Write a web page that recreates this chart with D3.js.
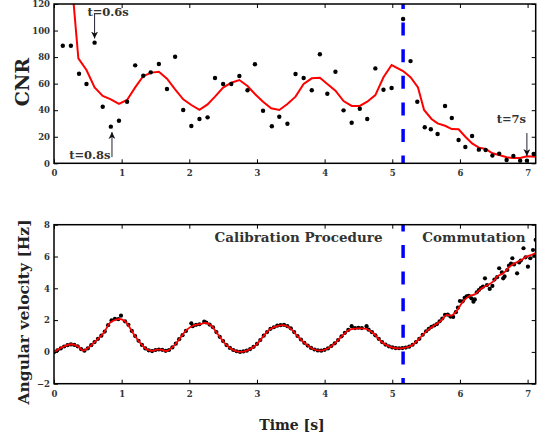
<!DOCTYPE html>
<html>
<head>
<meta charset="utf-8">
<script src="https://d3js.org/d3.v7.min.js"></script>
<style>
  body { margin: 0; background: #fff; }
  svg text { font-family: "DejaVu Serif", serif; }
</style>
</head>
<body>
<div id="chart"></div>
<script>
// ---- data ----
// CNR samples (time [s], CNR)
var cnrT = [0.13,0.25,0.37,0.48,0.60,0.72,0.84,0.96,1.08,1.20,1.32,1.43,1.55,1.67,1.79,1.91,2.03,2.15,2.27,2.38,
            2.50,2.62,2.74,2.86,2.97,3.09,3.22,3.33,3.45,3.57,3.69,3.81,3.93,4.04,4.16,4.28,4.40,4.52,4.63,4.75,
            4.87,4.99,5.16,5.27,5.37,5.48,5.57,5.67,5.78,5.88,5.98,6.08,6.18,6.28,6.38,6.48,6.58,6.69,6.79,6.89,6.99,7.09];
var cnrV = [88.6,88.6,67.5,59.7,90.9,42.6,27.6,32.1,46.4,73.8,66,68.5,74.8,56,80.3,40.2,28.1,33.4,34.6,64.3,
            59.7,59.7,65.8,55,74.6,39.6,27.9,35.1,29.8,67.3,64.3,55,82.1,52.4,69,39.9,30.6,41.1,33.4,71.5,
            55.4,56.7,108.7,77,46.4,27.1,25.6,22.1,43.2,34.1,17.6,12.3,20.6,10.3,10,5.8,7.3,2.5,5.5,2,2,7];

// smoothed CNR (red line)
var cnrFitT = [0.24,0.36,0.48,0.60,0.72,0.84,0.96,1.08,1.20,1.32,1.44,1.55,1.67,1.79,1.91,2.03,2.15,2.27,2.38,
               2.50,2.62,2.74,2.86,2.97,3.09,3.21,3.33,3.45,3.57,3.69,3.81,3.93,4.04,4.16,4.28,4.40,4.52,4.63,4.75,
               4.87,4.99,5.16,5.27,5.38,5.47,5.58,5.67,5.78,5.88,5.98,6.08,6.18,6.28,6.38,6.48,6.58,6.69,6.79,6.89,6.99,7.12];
var cnrFitV = [150,79,70.3,57.2,50.7,48.2,44.7,47.7,57.2,65.8,68.3,69,63.7,55.7,48.2,43.9,40.2,44.4,50.2,
               57,60.7,62.7,58.2,52.2,46.4,41.4,40.2,44.7,50.2,59.7,64,64.5,59.7,54.7,46.9,43.2,43.2,46.4,51.4,
               64.8,74,69.5,64.8,57.2,40.2,33.4,30.1,28.3,25.8,25.6,20,15,11.8,10.8,7.5,6.3,4.5,4,4,5.3,5];

// angular velocity: fitted curve (red) [t, Hz]
var velFit = [[0.00,-0.02],[0.14,0.33],[0.26,0.48],[0.36,0.33],[0.43,0.08],[0.51,0.27],[0.605,0.64],[0.73,1.17],
  [0.83,1.84],[0.93,2.05],[1.00,2.05],[1.07,1.84],[1.17,1.17],[1.27,0.58],[1.37,0.16],[1.44,0.06],[1.52,0.14],
  [1.59,0.14],[1.665,0.06],[1.76,0.33],[1.86,0.85],[1.96,1.38],[2.06,1.66],[2.16,1.75],[2.245,1.82],[2.33,1.63],
  [2.43,1.06],[2.55,0.43],[2.65,0.12],[2.75,0.0],[2.85,0.08],[2.97,0.37],[3.09,0.96],[3.19,1.42],[3.31,1.63],
  [3.41,1.67],[3.51,1.42],[3.585,1.06],[3.71,0.54],[3.83,0.18],[3.93,0.08],[4.03,0.18],[4.15,0.54],[4.27,1.06],
  [4.37,1.40],[4.495,1.48],[4.62,1.44],[4.72,1.17],[4.84,0.64],[4.96,0.33],[5.06,0.23],[5.18,0.26],[5.28,0.39],
  [5.38,0.75],[5.505,1.31],[5.63,1.69],[5.73,2.0],[5.80,2.32],[5.875,2.28],[5.95,2.57],[6.045,3.16],[6.145,3.53],
  [6.22,3.62],[6.32,4.0],[6.415,4.21],[6.49,4.42],[6.565,4.79],[6.64,4.94],[6.735,5.36],[6.835,5.63],[6.91,5.78],
  [6.98,5.99],[7.08,6.14],[7.15,6.3]];

// angular velocity: measured samples (black dots) [t, Hz]
var velDots = [[0.00,-0.02],[0.05,0.10],[0.10,0.22],[0.15,0.34],[0.20,0.42],[0.25,0.47],[0.30,0.44],[0.35,0.35],
  [0.40,0.18],[0.45,0.08],[0.50,0.22],[0.55,0.42],[0.60,0.62],[0.65,0.82],[0.70,1.02],[0.75,1.28],[0.80,1.68],
  [0.85,1.98],[0.90,2.08],[0.95,2.06],[0.99,2.28],[1.05,1.92],[1.10,1.70],[1.15,1.32],[1.20,1.00],[1.25,0.70],
  [1.30,0.44],[1.35,0.22],[1.40,0.10],[1.45,0.05],[1.50,0.12],[1.55,0.15],[1.60,0.13],[1.65,0.07],[1.70,0.12],
  [1.75,0.28],[1.80,0.52],[1.85,0.80],[1.90,1.05],[1.95,1.32],[2.03,1.80],[2.05,1.62],[2.10,1.70],[2.15,1.74],
  [2.22,1.90],[2.25,1.85],[2.30,1.72],[2.35,1.55],[2.40,1.25],[2.45,0.95],[2.50,0.68],[2.55,0.43],[2.60,0.25],
  [2.65,0.12],[2.70,0.04],[2.75,0.00],[2.80,0.03],[2.85,0.08],[2.90,0.18],[2.95,0.32],[3.00,0.50],[3.05,0.75],
  [3.10,1.02],[3.15,1.25],[3.20,1.45],[3.25,1.55],[3.30,1.65],[3.35,1.68],[3.40,1.70],[3.45,1.62],[3.50,1.48],
  [3.55,1.25],[3.60,1.00],[3.65,0.78],[3.70,0.57],[3.75,0.40],[3.80,0.25],[3.85,0.15],[3.90,0.09],[3.95,0.08],
  [4.00,0.13],[4.05,0.22],[4.10,0.37],[4.15,0.54],[4.20,0.75],[4.25,0.98],[4.30,1.20],[4.35,1.38],[4.40,1.62],
  [4.45,1.50],[4.50,1.52],[4.55,1.50],[4.62,1.62],[4.65,1.40],[4.70,1.24],[4.75,1.04],[4.80,0.82],[4.85,0.62],
  [4.90,0.46],[4.95,0.35],[5.00,0.28],[5.05,0.24],[5.10,0.23],[5.15,0.24],[5.20,0.27],[5.25,0.33],[5.30,0.45],
  [5.35,0.62],[5.40,0.82],[5.45,1.08],[5.50,1.30],[5.54,1.45],[5.58,1.58],[5.62,1.66],[5.66,1.75],[5.70,1.92],
  [5.74,2.10],[5.78,2.33],[5.82,2.35],[5.86,2.22],[5.90,2.20],[5.94,2.50],[5.97,2.78],[6.00,3.20],[6.04,3.18],
  [6.07,3.40],[6.10,3.50],[6.13,3.52],[6.17,3.37],[6.20,3.16],[6.22,3.30],[6.25,3.75],[6.28,3.89],[6.31,4.02],
  [6.34,4.10],[6.37,4.63],[6.40,4.20],[6.44,3.96],[6.48,4.15],[6.51,4.55],[6.55,4.70],[6.58,5.26],[6.62,5.00],
  [6.64,4.63],[6.66,4.75],[6.70,5.15],[6.725,5.42],[6.755,5.55],[6.775,5.89],[6.80,5.50],[6.845,4.94],[6.875,5.63],
  [6.90,5.75],[6.94,6.52],[6.97,5.95],[7.005,5.36],[7.04,5.89],[7.08,6.41],[7.10,6.05],[7.12,7.04]];

var xTicks = [0,1,2,3,4,5,6,7];
var cnrTicks = [0,20,40,60,80,100,120];
var velTicks = [-2,0,2,4,6,8];
var switchTime = 5.16;   // calibration -> commutation

// ---- layout ----
var W = 546, H = 441;
var left = 54, right = 535.7;
var topPanel = {y0: 4, y1: 163.3};
var botPanel = {y0: 224.7, y1: 383.7};

var svg = d3.select("#chart").append("svg").attr("width", W).attr("height", H);

var x = d3.scaleLinear().domain([0, 7.12]).range([left, right]);
var yC = d3.scaleLinear().domain([0, 120]).range([topPanel.y1, topPanel.y0]);
var yV = d3.scaleLinear().domain([-2, 8]).range([botPanel.y1, botPanel.y0]);

var defs = svg.append("defs");
defs.append("clipPath").attr("id", "clipTop").append("rect")
    .attr("x", left).attr("y", topPanel.y0).attr("width", right - left).attr("height", topPanel.y1 - topPanel.y0);
defs.append("clipPath").attr("id", "clipBot").append("rect")
    .attr("x", left).attr("y", botPanel.y0).attr("width", right - left).attr("height", botPanel.y1 - botPanel.y0);
defs.append("marker").attr("id", "arrow")
    .attr("viewBox", "0 0 10 10").attr("refX", 10).attr("refY", 5)
    .attr("markerWidth", 7).attr("markerHeight", 7).attr("markerUnits", "userSpaceOnUse")
    .attr("orient", "auto")
  .append("path").attr("d", "M0,0 L10,5 L0,10 L3,5 z").attr("fill", "#111");

// draws box, inward ticks on all four sides
function drawFrame(y, yTicks, p) {
  var g = svg.append("g");
  g.append("g").attr("transform", "translate(0," + p.y1 + ")")
    .call(d3.axisBottom(x).tickValues(xTicks).tickSize(-4).tickPadding(7));
  g.append("g").attr("transform", "translate(0," + p.y0 + ")")
    .call(d3.axisTop(x).tickValues(xTicks).tickSize(-4).tickFormat(""));
  g.append("g").attr("transform", "translate(" + left + ",0)")
    .call(d3.axisLeft(y).tickValues(yTicks).tickSize(-4).tickPadding(4));
  g.append("g").attr("transform", "translate(" + right + ",0)")
    .call(d3.axisRight(y).tickValues(yTicks).tickSize(-4).tickFormat(""));
  g.selectAll(".domain").remove();
  g.selectAll(".tick line").attr("stroke", "#000").attr("stroke-width", 1);
  g.selectAll(".tick text").attr("fill", "#333").style("font-size", "8.5px").style("font-weight", "bold")
    .style("font-family", "'DejaVu Serif', serif");
  g.append("rect").attr("x", left).attr("y", p.y0).attr("width", right - left).attr("height", p.y1 - p.y0)
    .attr("fill", "none").attr("stroke", "#000").attr("stroke-width", 1.5);
}

// ---- top panel: CNR ----
var gTop = svg.append("g").attr("clip-path", "url(#clipTop)");
gTop.append("path")
  .datum(d3.range(cnrFitT.length))
  .attr("fill", "none").attr("stroke", "#ff0000").attr("stroke-width", 2)
  .attr("d", d3.line().x(function (i) { return x(cnrFitT[i]); }).y(function (i) { return yC(cnrFitV[i]); }));
gTop.selectAll("circle").data(d3.range(cnrT.length)).enter().append("circle")
  .attr("cx", function (i) { return x(cnrT[i]); })
  .attr("cy", function (i) { return yC(cnrV[i]); })
  .attr("r", 2.2).attr("fill", "#000");
gTop.append("line")
  .attr("x1", x(switchTime)).attr("x2", x(switchTime)).attr("y1", topPanel.y0).attr("y2", topPanel.y1)
  .attr("stroke", "#0000ff").attr("stroke-width", 3.5)
  .attr("stroke-dasharray", "13,13.6").attr("stroke-dashoffset", 8);
drawFrame(yC, cnrTicks, topPanel);

// annotations
var notes = [
  {text: "t=0.6s", t: 0.6,  from: 112.5, to: 94,  lx: 0.80, ly: 110.6},
  {text: "t=0.8s", t: 0.857, from: 4.7,  to: 23.5, lx: 0.53, ly: 3.2},
  {text: "t=7s",   t: 6.99, from: 22.8,  to: 5.5,  lx: 6.76, ly: 30.4}
];
notes.forEach(function (n) {
  svg.append("line")
    .attr("x1", x(n.t)).attr("x2", x(n.t)).attr("y1", yC(n.from)).attr("y2", yC(n.to))
    .attr("stroke", "#223").attr("stroke-width", 1).attr("marker-end", "url(#arrow)");
  svg.append("text").attr("x", x(n.lx)).attr("y", yC(n.ly))
    .attr("text-anchor", "middle").attr("fill", "#333")
    .style("font-size", "11.5px").style("font-weight", "bold").text(n.text);
});

// ---- bottom panel: angular velocity ----
var gBot = svg.append("g").attr("clip-path", "url(#clipBot)");
gBot.selectAll("circle").data(velDots).enter().append("circle")
  .attr("cx", function (d) { return x(d[0]); })
  .attr("cy", function (d) { return yV(d[1]); })
  .attr("r", 2.1).attr("fill", "#000");
gBot.append("path").datum(velFit)
  .attr("fill", "none").attr("stroke", "#ff0000").attr("stroke-width", 1.8)
  .attr("d", d3.line().x(function (d) { return x(d[0]); }).y(function (d) { return yV(d[1]); })
    .curve(d3.curveCatmullRom.alpha(0.5)));
gBot.append("line")
  .attr("x1", x(switchTime)).attr("x2", x(switchTime)).attr("y1", botPanel.y0).attr("y2", botPanel.y1)
  .attr("stroke", "#0000ff").attr("stroke-width", 3.5)
  .attr("stroke-dasharray", "13,13.6").attr("stroke-dashoffset", 6.3);
drawFrame(yV, velTicks, botPanel);

svg.append("text").attr("x", 298.5).attr("y", 242).attr("text-anchor", "middle").attr("fill", "#333")
  .style("font-size", "13.5px").style("font-weight", "bold").text("Calibration Procedure");
svg.append("text").attr("x", 474).attr("y", 242).attr("text-anchor", "middle").attr("fill", "#333")
  .style("font-size", "13.5px").style("font-weight", "bold").text("Commutation");

// axis titles
svg.append("text").attr("transform", "translate(29,82) rotate(-90)")
  .attr("text-anchor", "middle").attr("fill", "#222")
  .style("font-size", "19px").style("font-weight", "bold").text("CNR");
svg.append("text").attr("transform", "translate(29,312) rotate(-90)")
  .attr("text-anchor", "middle").attr("fill", "#222")
  .style("font-size", "15.5px").style("font-weight", "bold").text("Angular velocity [Hz]");
svg.append("text").attr("x", 292).attr("y", 430)
  .attr("text-anchor", "middle").attr("fill", "#222")
  .style("font-size", "14px").style("font-weight", "bold").text("Time [s]");
</script>
</body>
</html>
